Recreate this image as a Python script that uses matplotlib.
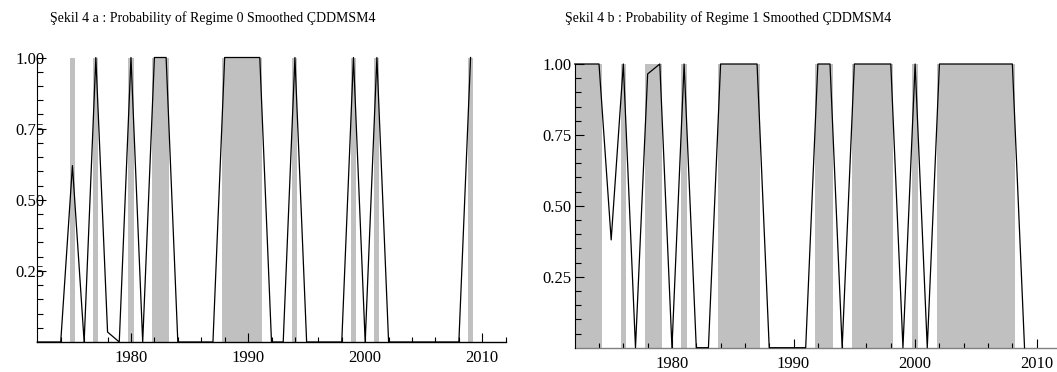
import matplotlib
matplotlib.use('Agg')
import matplotlib.pyplot as plt
from matplotlib.ticker import FixedLocator

plt.rcParams['font.family'] = ['Liberation Serif', 'DejaVu Serif']

years = list(range(1972, 2010))
regime0 = [0, 0, 0, 0.62, 0, 1, 0.035, 0, 1, 0, 1, 1, 0, 0, 0, 0, 1, 1, 1, 1,
           0, 0, 1, 0, 0, 0, 0, 1, 0, 1, 0, 0, 0, 0, 0, 0, 0, 1]
regime1 = [1, 1, 1, 0.38, 1, 0, 0.965, 1, 0, 1, 0, 0, 1, 1, 1, 1, 0, 0, 0, 0,
           1, 1, 0, 1, 1, 1, 1, 0, 1, 0, 1, 1, 1, 1, 1, 1, 1, 0]
titles = ["Şekil 4 a : Probability of Regime 0 Smoothed ÇDDMSM4",
          "Şekil 4 b : Probability of Regime 1 Smoothed ÇDDMSM4"]
xtick_labels = ["1980", "1990", "2000", "2010"]
ytick_labels = ["0.25", "0.50", "0.75", "1.00"]

W, H = 1057, 372
fig = plt.figure(figsize=(W / 100, H / 100), dpi=100)


def px_axes(x0, y_top, x1, y_bot):
    return fig.add_axes([x0 / W, 1 - y_bot / H, (x1 - x0) / W, (y_bot - y_top) / H])


def runs(yrs, vals):
    out = []
    start = None
    prev = None
    for y, v in zip(yrs, vals):
        if v > 0.5:
            if start is None:
                start = y
            prev = y
        else:
            if start is not None:
                out.append((start, prev))
                start = None
    if start is not None:
        out.append((start, prev))
    return out


def draw(ax, vals, ypad, spine_col):
    for a, b in runs(years, vals):
        ax.axvspan(a - 0.22, b + 0.22, ymin=0, ymax=1, color='#c0c0c0', lw=0, zorder=1)
    ax.plot(years, vals, color='black', lw=0.9, zorder=3, clip_on=False)
    ax.set_xlim(1972, 2012)
    ax.set_ylim(0, 1.0)
    for s in ['top', 'right']:
        ax.spines[s].set_visible(False)
    ax.spines['left'].set_linewidth(0.8)
    ax.spines['bottom'].set_linewidth(1.0)
    ax.spines['bottom'].set_color(spine_col)
    ax.spines['bottom'].set_zorder(2)
    ax.set_xticks([1980, 1990, 2000, 2010])
    ax.set_xticklabels(xtick_labels)
    ax.xaxis.set_minor_locator(FixedLocator([y for y in range(1974, 2013, 2) if y % 10]))
    ax.set_yticks([0.25, 0.5, 0.75, 1.0])
    ax.set_yticklabels(ytick_labels)
    ax.yaxis.set_minor_locator(FixedLocator([i * 0.05 for i in range(1, 20) if i % 5]))
    ax.tick_params(axis='both', which='both', direction='in', color='black', width=0.8,
                   labelsize=12)
    ax.tick_params(axis='x', which='major', length=6.5, pad=6)
    ax.tick_params(axis='x', which='minor', length=3.3)
    ax.tick_params(axis='y', which='major', length=6.5, pad=ypad)
    ax.tick_params(axis='y', which='minor', length=4.0)
    ax.set_facecolor('none')


ax1 = px_axes(37.3, 57.5, 505.7, 342.0)
draw(ax1, regime0, -5.5, 'black')
ax2 = px_axes(574.7, 64.0, 1061.0, 347.7)
draw(ax2, regime1, 2.0, '#808080')

fig.text(50 / W, 1 - 22.0 / H, titles[0], fontsize=10, va='baseline', ha='left')
fig.text(565 / W, 1 - 22.0 / H, titles[1], fontsize=10, va='baseline', ha='left')

fig.savefig('out.png', dpi=100)
